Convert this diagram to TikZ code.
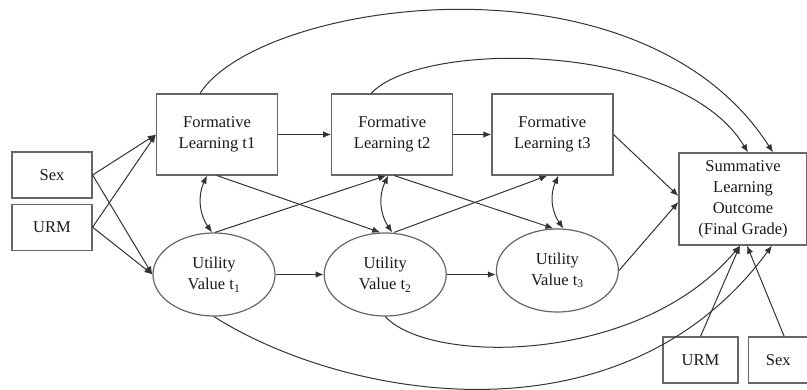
\documentclass[tikz,border=0pt]{standalone}
\usepackage{fontspec}
\setmainfont{Liberation Serif}
\usepackage{xcolor}
\usepackage{tikz}
\usetikzlibrary{arrows.meta, positioning, shapes.geometric}
\definecolor{bord}{HTML}{666666}
\definecolor{fil}{HTML}{333333}
\definecolor{texte}{HTML}{1A1A1A}
\tikzset{
  bloc/.style={rectangle, draw=bord, fill=white, text=texte,
    font=\fontsize{16.5}{21}\selectfont, align=center, line width=1.2pt,
    inner sep=0pt},
  petitbloc/.style={bloc, minimum width=80pt, minimum height=46pt},
  blocform/.style={bloc, minimum width=121pt, minimum height=81pt},
  ovale/.style={ellipse, draw=bord, fill=white, text=texte,
    font=\fontsize{16.5}{21}\selectfont, align=center, line width=1.2pt,
    minimum width=122pt, minimum height=83pt, inner sep=0pt},
  fleche/.style={-{Latex[length=8pt, width=6.5pt]}, line width=1pt, color=fil},
  flechedouble/.style={{Latex[length=8pt, width=6.5pt]}-{Latex[length=8pt, width=6.5pt]},
    line width=1pt, color=fil}
}

\begin{document}
\begin{tikzpicture}[x=1pt, y=-1pt]
    \useasboundingbox (0,0) rectangle (807,390);
    % variables de controle a gauche
    \node[petitbloc] (sexe) at (52,175) {Sex};
    \node[petitbloc, below=5pt of sexe] (urm) {URM};
    % apprentissage formatif
    \node[blocform] (form1) at (217,134.5) {Formative\\Learning t1};
    \node[blocform, right=53pt of form1] (form2) {Formative\\Learning t2};
    \node[blocform, right=38pt of form2] (form3) {Formative\\Learning t3};
    % valeur d'utilite
    \node[ovale] (util1) at (214,274.5) {Utility\\Value t\textsubscript{1}};
    \node[ovale, right=48pt of util1] (util2) {Utility\\Value t\textsubscript{2}};
    \node[ovale, right=49pt of util2, yshift=4pt] (util3) {Utility\\Value t\textsubscript{3}};
    % resultat final
    \node[bloc, minimum width=128pt, minimum height=92pt] (somm) at (743,199)
      {Summative\\Learning\\Outcome\\(Final Grade)};
    \node[bloc, minimum width=75pt, minimum height=46pt] (urmbas) at (700.5,360) {URM};
    \node[bloc, minimum width=60pt, minimum height=46pt, right=9pt of urmbas] (sexebas) {Sex};

    \draw[fleche] (sexe.east) -- (form1.west);
    \draw[fleche] (urm.east) -- (form1.west);
    \draw[fleche] (sexe.east) -- (util1.west);
    \draw[fleche] (urm.east) -- (util1.west);

    \draw[fleche] (form1) -- (form2);
    \draw[fleche] (form2) -- (form3);
    \draw[fleche] (util1) -- (util2);
    \draw[fleche] (util2.east) -- (util2.east -| util3.west);

    % effets croises
    \draw[fleche] (form1.south) -- ([xshift=-5pt]util2.north);
    \draw[fleche] ([xshift=1pt]util1.north) -- ([xshift=-6pt]form2.south);
    \draw[fleche] ([xshift=2pt]form2.south) -- ([xshift=-4pt]util3.north);
    \draw[fleche] ([xshift=9pt]util2.north) -- ([xshift=-5pt]form3.south);

    % covariances
    \draw[flechedouble] ([xshift=-10pt]form1.south) to[bend right=30] ([xshift=-2pt]util1.north);
    \draw[flechedouble] ([xshift=-4pt]form2.south) to[bend right=30] ([xshift=7pt]util2.north);
    \draw[flechedouble] ([xshift=6pt]form3.south) to[bend right=30] ([xshift=6pt]util3.north);

    % vers le resultat final
    \draw[fleche] (form3.east) -- ([yshift=3pt]somm.west);
    \draw[fleche] (util3.east) -- ([yshift=-3pt]somm.west);
    \draw[fleche] ([xshift=-17pt]form1.north) .. controls (260,0) and (640,-55) .. ([xshift=30pt]somm.north);
    \draw[fleche] ([xshift=-21pt]form2.north) .. controls (420,40) and (680,40) .. ([xshift=5pt]somm.north);
    \draw[fleche] (util2.south) .. controls (430,365) and (640,365) .. ([xshift=-3pt]somm.south);
    \draw[fleche] (util1.south) .. controls (340,397) and (620,452) .. ([xshift=29pt]somm.south);
    \draw[fleche] (urmbas.north) -- ([xshift=-3pt]somm.south);
    \draw[fleche] ([xshift=6pt]sexebas.north) -- ([xshift=4pt]somm.south);
  \end{tikzpicture}
\end{document}
